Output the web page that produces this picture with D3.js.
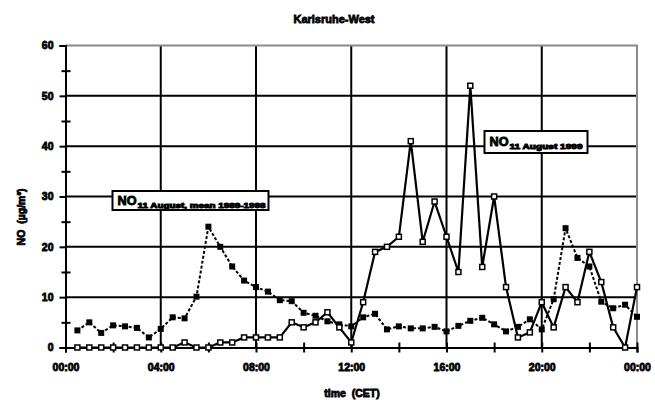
<!DOCTYPE html>
<html>
<head>
<meta charset="utf-8">
<script src="https://cdn.jsdelivr.net/npm/d3@7"></script>
<style>
  body { margin: 0; background: #fff; }
  svg text { font-family: "Liberation Sans", Arial, sans-serif; font-weight: bold; fill: #000; }
</style>
</head>
<body>
<svg width="655" height="400"></svg>
<script>
// half-hourly time stamps (hours)
var hours = [0.5, 1, 1.5, 2, 2.5, 3, 3.5, 4, 4.5, 5, 5.5, 6, 6.5, 7, 7.5, 8,
  8.5, 9, 9.5, 10, 10.5, 11, 11.5, 12, 12.5, 13, 13.5, 14, 14.5, 15, 15.5, 16,
  16.5, 17, 17.5, 18, 18.5, 19, 19.5, 20, 20.5, 21, 21.5, 22, 22.5, 23, 23.5, 24];

// NO 11 August 1999
var no1999 = [0, 0, 0, 0, 0, 0, 0, 0, 0, 1, 0, 0, 1, 1, 2, 2,
  2, 2, 5, 4, 5, 7, 4, 1, 9, 19, 20, 22, 41, 21, 29, 22,
  15, 52, 16, 30, 12, 2, 3, 9, 4, 12, 9, 19, 13, 4, 0, 12];

// NO 11 August, mean 1989-1998
var noMean = [3.4, 5.0, 2.9, 4.4, 4.2, 3.9, 2.0, 3.7, 6.0, 5.8, 10.1, 24.0, 20.0, 16.1, 13.3, 12.0,
  11.1, 9.4, 9.2, 6.9, 6.3, 5.2, 4.6, 4.2, 6.0, 6.7, 3.6, 4.2, 3.8, 3.8, 4.1, 3.2,
  4.3, 5.3, 5.9, 4.6, 3.2, 4.1, 5.6, 3.6, 9.6, 23.7, 17.8, 16.1, 9.1, 7.8, 8.5, 6.1];

var xTicks = [0, 2, 4, 6, 8, 10, 12, 14, 16, 18, 20, 22, 24];
var xLabels = {0: "00:00", 4: "04:00", 8: "08:00", 12: "12:00", 16: "16:00", 20: "20:00", 24: "00:00"};
var yTicks = [0, 5, 10, 15, 20, 25, 30, 35, 40, 45, 50, 55, 60];

var svg = d3.select("svg");

var x = d3.scaleLinear().domain([0, 24]).range([65.5, 637]),
    y = d3.scaleLinear().domain([0, 60]).range([347.5, 45.5]);

// grid
var grid = svg.append("g");
grid.selectAll(".hgrid")
  .data([10, 20, 30, 40, 50])
  .enter().append("line")
  .attr("x1", x(0)).attr("x2", x(24))
  .attr("y1", function(d) { return y(d); }).attr("y2", function(d) { return y(d); })
  .attr("stroke", "#000").attr("stroke-width", 2);
grid.selectAll(".vgrid")
  .data([4, 8, 12, 16, 20])
  .enter().append("line")
  .attr("y1", y(0)).attr("y2", y(60))
  .attr("x1", function(d) { return x(d); }).attr("x2", function(d) { return x(d); })
  .attr("stroke", "#000").attr("stroke-width", 2);
// plot border top/right (grey)
grid.append("path")
  .attr("d", "M" + x(0) + "," + y(60) + "H" + x(24) + "V" + y(0))
  .attr("fill", "none").attr("stroke", "#8a8a8a").attr("stroke-width", 2);

// y axis
var yAxis = svg.append("g")
  .attr("transform", "translate(" + x(0) + ",0)")
  .call(d3.axisLeft(y).tickValues(yTicks).tickSize(6).tickPadding(5)
    .tickFormat(function(d) { return d % 10 === 0 ? d : ""; }));
yAxis.select(".domain").attr("stroke", "#000").attr("stroke-width", 2);
yAxis.selectAll(".tick line").attr("stroke", "#000").attr("stroke-width", 2)
  .attr("x2", function(d) { return d % 10 === 0 ? -6 : 5; })
  .attr("x1", function(d) { return d % 10 === 0 ? 0 : -4; });
yAxis.selectAll(".tick text")
  .attr("x", -12)
  .style("font-size", "10.5px").style("font-family", "Liberation Sans, Arial, sans-serif")
  .style("font-weight", "bold").attr("stroke", "#000").attr("stroke-width", 0.8);

// x axis
var xAxis = svg.append("g")
  .attr("transform", "translate(0," + y(0) + ")")
  .call(d3.axisBottom(x).tickValues(xTicks).tickSize(5)
    .tickFormat(function(d) { return xLabels[d] || ""; }));
xAxis.select(".domain").attr("stroke", "#000").attr("stroke-width", 2);
xAxis.selectAll(".tick line").attr("stroke", "#000").attr("stroke-width", 2)
  .attr("y1", -5).attr("y2", 5);
xAxis.selectAll(".tick text")
  .attr("y", 16)
  .style("font-size", "10.5px").style("font-family", "Liberation Sans, Arial, sans-serif")
  .style("font-weight", "bold").attr("stroke", "#000").attr("stroke-width", 0.8);

// series
var line = d3.line()
  .x(function(d, i) { return x(hours[i]); })
  .y(function(d) { return y(d); });

svg.append("path")
  .datum(noMean)
  .attr("fill", "none").attr("stroke", "#000").attr("stroke-width", 2)
  .attr("stroke-dasharray", "3,2")
  .attr("d", line);

svg.append("path")
  .datum(no1999)
  .attr("fill", "none").attr("stroke", "#000").attr("stroke-width", 2.2)
  .attr("d", line);

svg.selectAll(".mMean")
  .data(noMean)
  .enter().append("rect")
  .attr("x", function(d, i) { return x(hours[i]) - 3; })
  .attr("y", function(d) { return y(d) - 3; })
  .attr("width", 6).attr("height", 6)
  .attr("fill", "#000");

svg.selectAll(".m1999")
  .data(no1999)
  .enter().append("rect")
  .attr("x", function(d, i) { return x(hours[i]) - 2.5; })
  .attr("y", function(d) { return y(d) - 2.5; })
  .attr("width", 5).attr("height", 5)
  .attr("fill", "#fff").attr("stroke", "#000").attr("stroke-width", 1.5);

// labels in boxes
function tag(bx, by, bw, bh, sub, subLen) {
  var g = svg.append("g");
  g.append("rect").attr("x", bx).attr("y", by).attr("width", bw).attr("height", bh)
    .attr("fill", "#fff").attr("stroke", "#000").attr("stroke-width", 2);
  var t = g.append("text").attr("x", bx + 5).attr("y", by + bh / 2 + 4)
    .attr("stroke", "#000").attr("stroke-width", 0.9);
  t.append("tspan").style("font-size", "13px").attr("textLength", 19)
    .attr("lengthAdjust", "spacingAndGlyphs").text("NO");
  t.append("tspan").attr("dy", 3).attr("dx", 1).style("font-size", "7.5px")
    .attr("textLength", subLen).attr("lengthAdjust", "spacingAndGlyphs").text(sub);
}
tag(112.5, 191, 156, 19, "11 August, mean 1989-1998", 128);
tag(484.5, 131, 103, 22, "11 August 1999", 73);

// titles
svg.append("text").attr("x", 334).attr("y", 23).attr("text-anchor", "middle")
  .style("font-size", "11px").attr("stroke", "#000").attr("stroke-width", 0.8)
  .text("Karlsruhe-West");
svg.append("text").attr("x", 352).attr("y", 397).attr("text-anchor", "middle")
  .style("font-size", "10.5px").attr("stroke", "#000").attr("stroke-width", 0.8)
  .attr("xml:space", "preserve")
  .text("time  (CET)");
svg.append("text")
  .attr("transform", "translate(25,217) rotate(-90)")
  .attr("text-anchor", "middle")
  .style("font-size", "10.5px").attr("stroke", "#000").attr("stroke-width", 0.8)
  .attr("xml:space", "preserve")
  .text("NO  (µg/m³)");
</script>
</body>
</html>
